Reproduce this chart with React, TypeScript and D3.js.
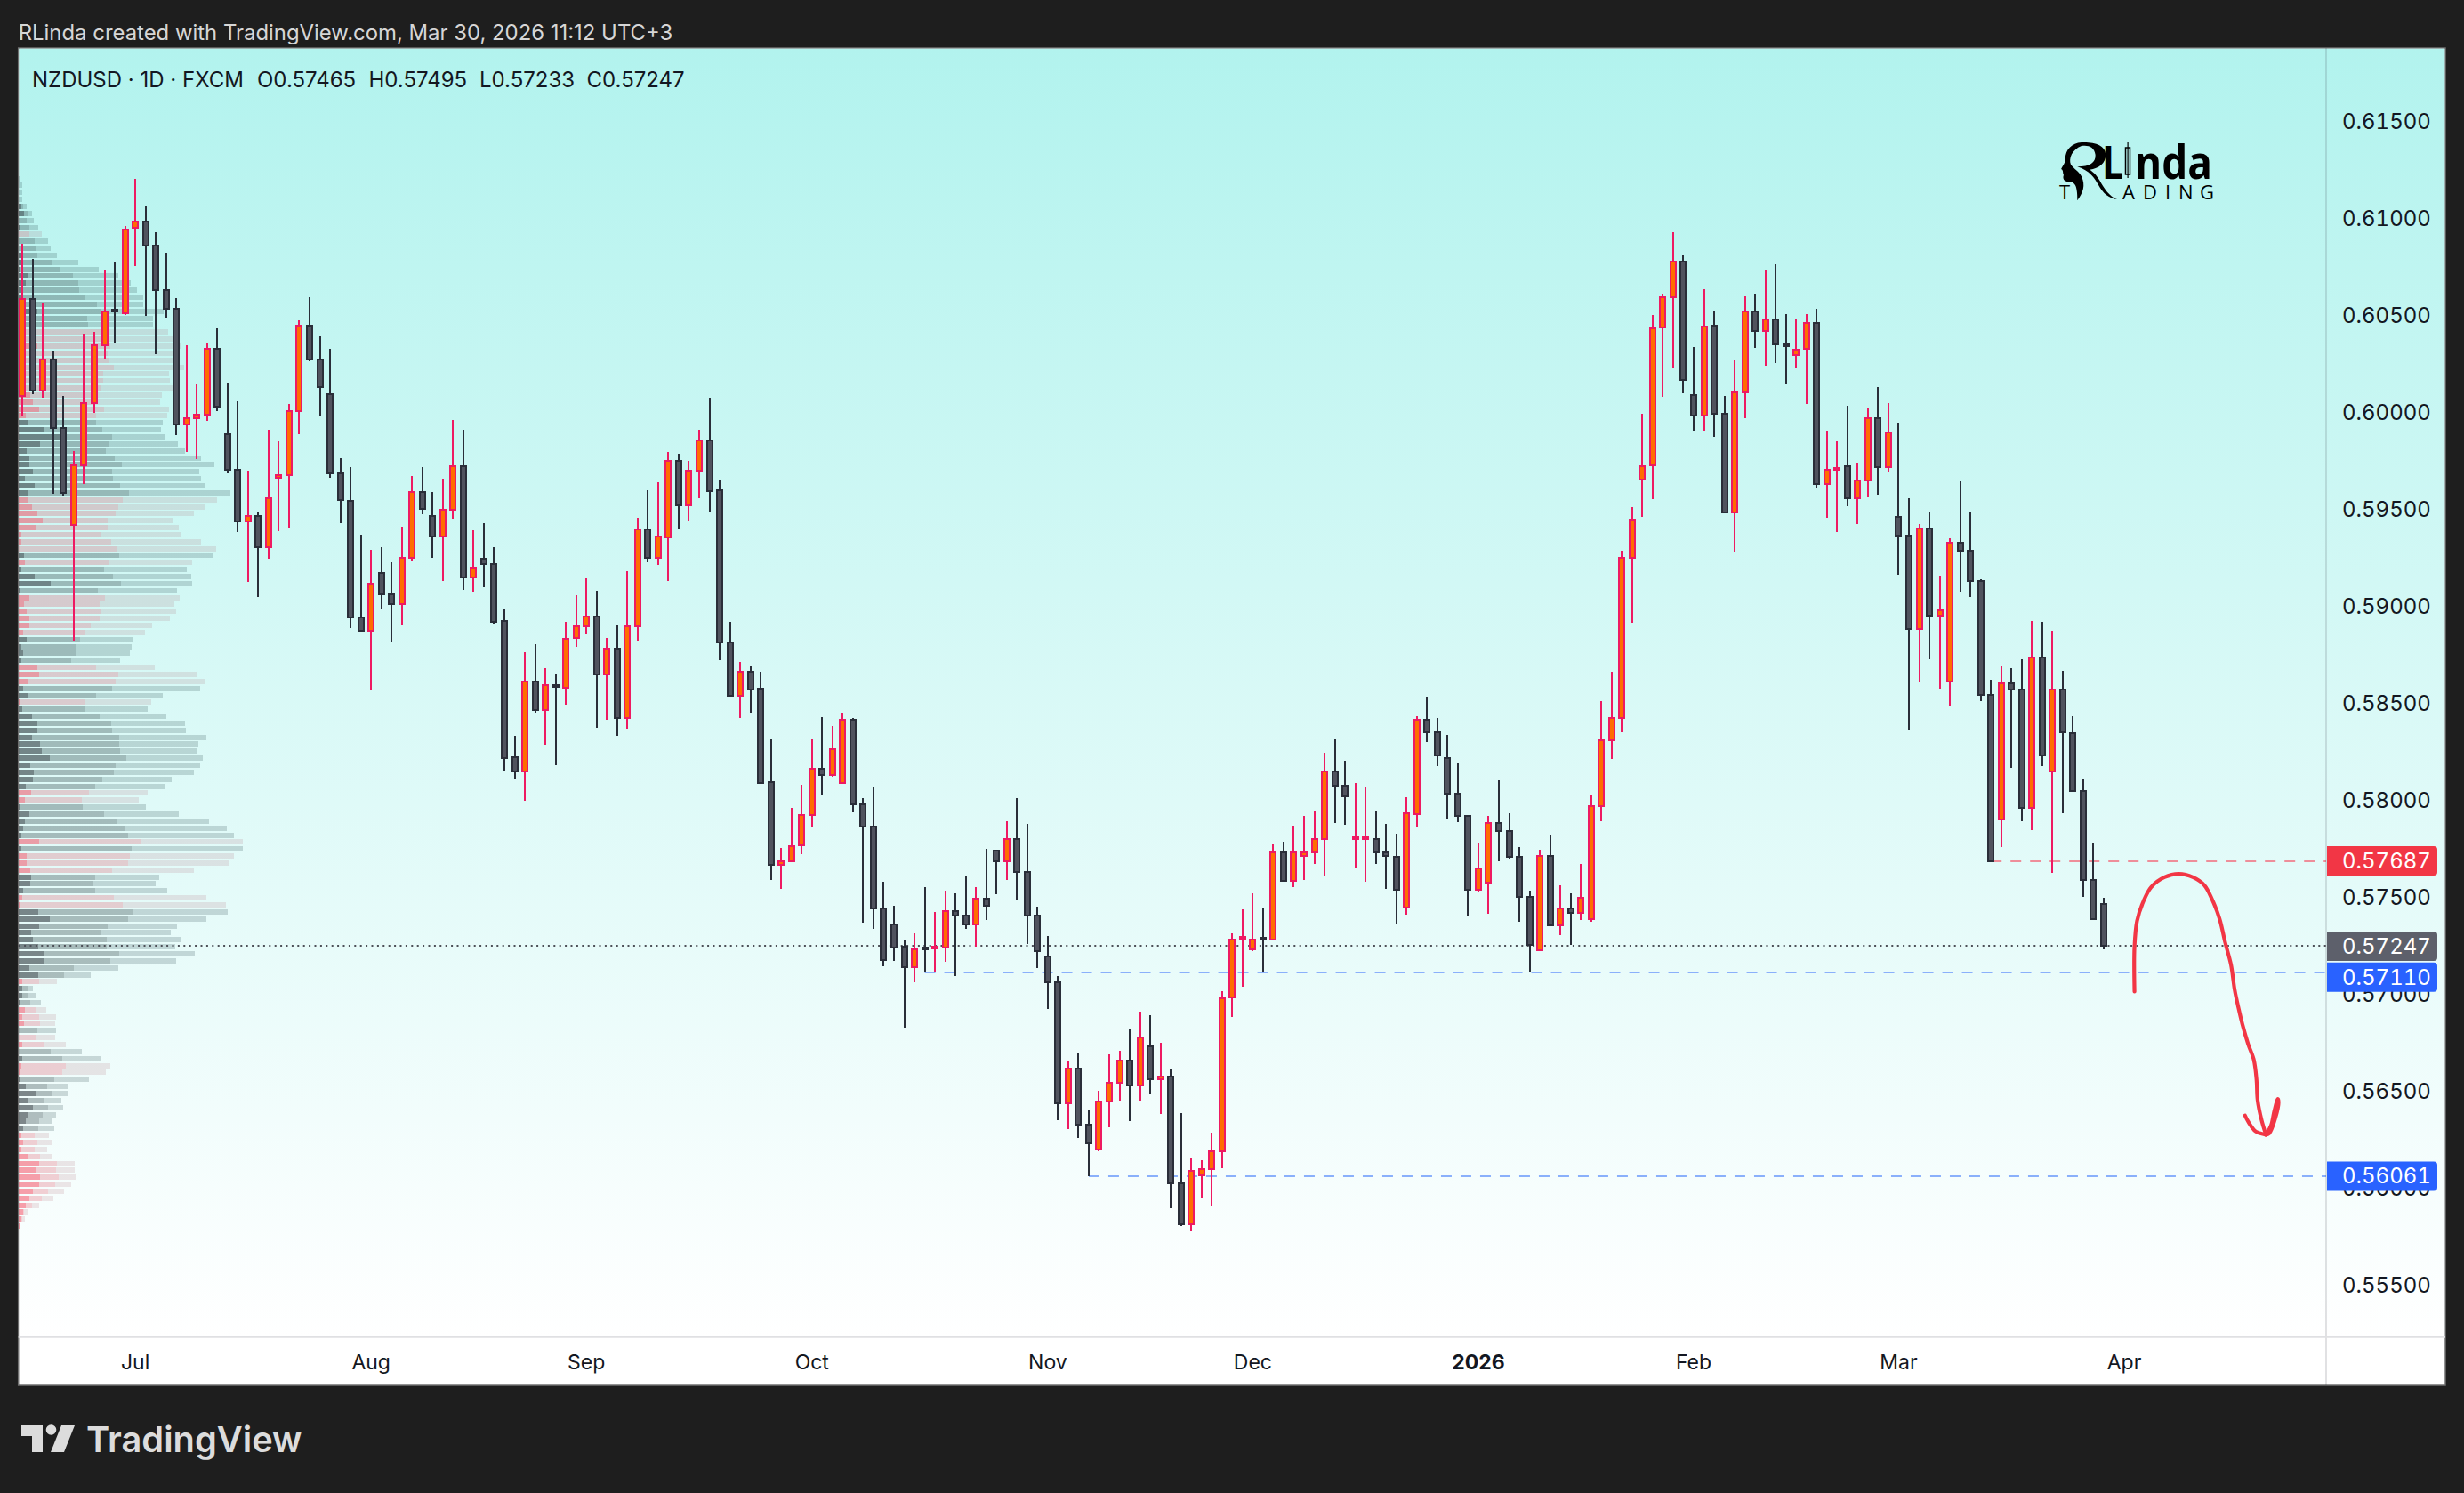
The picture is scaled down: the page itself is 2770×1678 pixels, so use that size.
import React, { useEffect, useRef } from 'react';
import * as d3 from 'd3';

// prices are stored in points (1 point = 0.00001)
const opens = [
  60083,60586,60111,60275,59918,59420,59729,60050,60349,60530,60513,60953,60983,60862,60632,60537,59939,59972,59987,60329,
  59890,59706,59439,59464,59306,59665,59677,60009,60450,60275,60093,59687,59546,58944,58875,59170,59064,59013,59252,59588,
  59464,59362,59500,59721,59151,59244,59216,58923,58220,58149,58610,58467,58595,58582,58836,58898,58946,58651,58780,58425,
  58895,59395,59251,59357,59750,59523,59701,59857,59597,58816,58540,58661,58574,58092,57666,57687,57768,57925,58161,58132,
  58091,58413,57981,57866,57444,57358,57243,57139,57238,57235,57241,57429,57407,57358,57491,57741,57684,57802,57628,57407,
  57196,57059,56436,56614,56329,56198,56444,56544,56659,56528,56733,56559,56573,56026,55811,56065,56096,56190,56982,57284,
  57229,57290,57280,57729,57583,57714,57729,57798,58151,58077,57804,57803,57802,57733,57710,57448,57930,58413,58352,58216,
  58032,57917,57538,57573,57884,57839,57710,57503,57225,57712,57356,57444,57417,57388,57971,58311,58423,59251,59653,59727,
  60438,60596,60780,60092,59983,60447,59992,59486,60102,60522,60422,60478,60350,60296,60327,60462,59630,59710,59721,59556,
  59648,59969,59718,59463,59363,58882,59400,58950,58610,59326,59286,59130,58542,57900,58605,58572,57960,58738,58148,58572,
  58347,58048,57587,57465,
];
const highs = [
  60868,60791,60562,60319,60083,59800,60406,60417,60739,60772,60960,61204,61062,60929,60824,60590,60345,60144,60360,60432,
  60149,60057,59698,59488,59909,59849,60042,60475,60595,60393,60327,59762,59716,59369,59292,59305,59226,59410,59672,59718,
  59588,59660,59960,59909,59392,59429,59305,58984,58330,58762,58803,58680,58653,58920,59057,59144,59080,58836,58900,59180,
  59456,59598,59639,59795,59787,59750,59911,60075,59652,58920,58711,58693,58662,58313,57756,57961,58079,58315,58429,58382,
  58452,58423,58013,58065,57581,57454,57280,57315,57552,57425,57534,57518,57606,57552,57751,57741,57890,58013,57880,57450,
  57300,57091,56651,56698,56405,56503,56688,56706,56821,56911,56891,56749,56616,56387,56157,56143,56284,57016,57315,57436,
  57518,57444,57772,57786,57868,57921,57946,58245,58315,58204,58089,58067,57942,57878,57829,58015,58431,58534,58423,58337,
  58194,57917,57776,57917,58104,57934,57759,57534,57747,57823,57561,57522,57671,58028,58510,58661,59285,59512,59993,60503,
  60613,60929,60808,60338,60636,60520,60085,60267,60599,60615,60735,60763,60508,60485,60508,60533,59904,59849,60036,59741,
  60025,60130,60048,59948,59556,59425,59484,59156,59349,59644,59484,59138,58622,58695,58683,58728,58925,58921,58874,58665,
  58433,58109,57777,57495,
];
const lows = [
  59980,60095,60075,59580,59567,58825,59632,60000,60280,60362,60505,60755,60499,60303,60488,59885,59798,59760,59959,60008,
  59687,59385,59128,59049,59247,59388,59406,59890,60265,59980,59664,59431,58887,58870,58567,58988,58813,58907,59231,59475,
  59249,59131,59452,59087,59075,59098,58911,58149,58108,57997,58453,58285,58180,58492,58792,58856,58374,58416,58330,58371,
  58825,59226,59215,59131,59398,59444,59559,59485,58723,58534,58425,58453,58084,57589,57543,57680,57723,57860,58030,58120,
  58090,57938,57368,57337,57143,57169,56829,57059,57116,57116,57167,57095,57337,57245,57382,57516,57589,57487,57259,57136,
  56925,56350,56305,56257,56061,56190,56313,56450,56346,56450,56485,56382,55895,55805,55778,55950,55909,56104,56884,57040,
  57222,57112,57275,57578,57554,57589,57671,57612,57882,57874,57653,57579,57671,57542,57360,57409,57860,58300,58175,57901,
  57886,57401,57524,57415,57686,57698,57372,57112,57220,57348,57304,57253,57382,57375,57890,58212,58349,58915,59463,59551,
  60081,60227,60099,59906,59906,59876,59481,59284,59972,60334,60239,60257,60146,60227,60046,59614,59458,59381,59518,59426,
  59560,59574,59697,59165,58362,58613,58729,58576,58485,59077,59050,58513,57680,57757,58167,57890,57847,58177,57624,57935,
  58042,57501,57382,57233,
];
const closes = [
  60586,60111,60275,59918,59587,59729,60050,60349,60521,60520,60944,60983,60862,60632,60536,59939,59972,59987,60329,60032,
  59706,59439,59464,59306,59556,59677,60009,60450,60275,60129,59687,59547,58944,58875,59115,59064,59013,59252,59588,59501,
  59362,59500,59721,59151,59198,59216,58921,58218,58149,58610,58467,58595,58584,58834,58898,58946,58651,58780,58425,58895,
  59395,59251,59359,59750,59523,59701,59857,59595,58815,58539,58661,58572,58090,57666,57687,57764,57925,58161,58132,58265,
  58413,57981,57866,57444,57177,57241,57139,57233,57229,57244,57429,57407,57358,57491,57454,57684,57802,57628,57407,57220,
  57059,56436,56614,56329,56229,56444,56544,56659,56528,56778,56561,56573,56026,55811,56087,56096,56190,56979,57282,57296,
  57282,57283,57729,57583,57729,57729,57798,58151,58077,58022,57809,57808,57733,57712,57540,57931,58413,58352,58231,58032,
  57917,57538,57647,57884,57839,57710,57503,57255,57712,57354,57444,57417,57495,57971,58311,58423,59251,59446,59723,60434,
  60596,60780,60169,59983,60445,59992,59486,60104,60522,60422,60478,60350,60340,60325,60462,59630,59705,59715,59556,59648,
  59969,59718,59899,59363,58882,59400,58950,58980,59326,59286,59130,58543,57685,58605,58572,57960,58738,58230,58572,58351,
  58048,57587,57388,57247,
];

// month labels on the time axis, placed on bar indexes
const timeLabels = ['Jul', 'Aug', 'Sep', 'Oct', 'Nov', 'Dec', '2026', 'Feb', 'Mar', 'Apr'];
const timeBars = [11, 34, 55, 77, 100, 120, 142, 163, 183, 205];

const priceTicks = d3.range(55500, 61501, 500);

// volume profile rows from the top of the range down: g/r and the three cumulative parts
const vpRows: [string, number, number, number][] = [
  ['g',0,0,4],['g',0,0,7],['g',0,0,7],['g',0,0,7],['g',5,10,17],['g',11,19,27],['g',0,16,30],['g',4,21,39],['r',0,21,46],['g',0,32,58],
  ['g',0,34,63],['g',5,37,76],['g',5,65,117],['g',3,82,157],['g',18,107,196],['g',14,117,220],['g',10,119,232],['g',5,130,245],['g',10,154,244],['g',37,160,284],
  ['g',5,135,264],['g',5,136,264],['r',0,170,293],['r',0,175,305],['r',37,180,320],['r',0,175,310],['r',10,177,310],['r',5,187,325],['r',0,166,295],['r',0,166,297],
  ['r',0,163,310],['r',23,150,281],['r',29,150,278],['r',41,168,295],['r',15,152,292],['g',20,152,283],['g',49,164,279],['g',84,184,288],['g',42,177,312],['g',16,171,326],
  ['g',21,189,358],['g',21,203,384],['g',28,184,354],['g',13,185,358],['g',32,199,366],['g',18,217,415],
  ['r',18,204,389],['r',27,196,365],['r',37,190,344],['r',48,175,302],['r',34,175,314],['r',5,161,318],['r',5,182,358],['r',0,194,387],['g',11,197,382],['r',13,177,340],
  ['g',5,168,330],['g',32,185,339],['g',63,201,340],['g',3,156,311],['r',21,170,316],['r',11,159,305],['r',16,163,309],['r',21,159,297],['r',21,142,262],['r',9,130,248],
  ['g',16,121,225],['g',5,112,222],['g',9,114,218],['g',6,103,199],['r',37,152,267],['r',41,196,349],['r',18,190,365],['g',9,184,356],['g',20,152,283],['r',3,131,260],
  ['g',8,130,253],['g',27,159,290],['g',37,182,326],['g',37,184,328],['g',27,197,368],['g',42,197,353],['g',46,199,351],['g',62,211,361],['g',23,190,356],['g',30,187,344],
  ['g',28,164,300],['g',15,150,286],['r',25,138,253],['r',13,124,236],['g',2,126,250],['g',21,168,314],['g',13,192,373],['g',9,208,408],['g',6,215,422],['r',41,241,440],
  ['g',6,222,440],['r',16,218,422],['r',16,215,412],['r',23,184,344],['g',25,150,276],['g',23,145,269],['g',9,150,292],['r',8,187,368],['r',2,204,407],['g',39,224,410],
  ['g',62,215,368],['g',41,175,311],['g',25,163,299],['g',28,173,318],['g',39,173,307],['g',49,197,346],['g',51,180,309],['g',21,109,196],['g',39,89,142],
  ['r',8,41,76],['g',8,18,28],['g',8,20,34],['g',2,23,44],['r',13,34,55],['r',8,41,74],['r',11,42,72],['g',1,37,74],['r',1,35,72],['r',8,51,93],
  ['g',1,63,124],['g',8,86,163],['r',6,93,180],['r',2,86,171],['g',4,70,138],['g',15,56,98],['g',35,65,96],['g',18,51,84],['g',28,58,88],['g',20,48,74],
  ['g',15,41,67],['g',9,39,70],['r',6,32,60],['r',9,37,65],['r',6,32,56],['r',18,42,65],['r',41,76,110],['r',35,74,110],['r',42,79,114],['r',41,72,103],
  ['r',28,58,89],['r',21,46,69],['r',15,27,41],['r',9,11,18],['r',6,8,13],['r',2,2,2],
];

// horizontal levels drawn on the chart
const levelPrices = [57687, 57110, 56061];
const levelStartBars = [192, 88, 104];
const levelColors = ['#ee8e9a', '#8ab0fb', '#8ab0fb'];
const labelColors = ['#f23645', '#2962ff', '#2962ff'];
const lastPrice = 57247;

// hand drawn forecast stroke, bar index / price pairs
const sketchBars = [206,206,206.25,206.88,207.62,208.92,210.33,211.7,212.81,213.55,214.3,214.85,215.41,215.78,216.15,216.52,217.08,217.64,217.9,218,218.38,218.82];
const sketchPrices = [57013,57245,57378,57480,57552,57603,57620,57603,57562,57491,57388,57265,57152,57019,56927,56845,56743,56661,56558,56456,56353,56275];
const barbLeftBars = [218.82,217.82,217.08,216.78];
const barbLeftPrices = [56275,56292,56343,56374];
const barbRightBars = [218.82,219.32,219.62,219.98,220.05,219.75,219.13,218.82];
const barbRightPrices = [56275,56323,56394,56460,56442,56364,56281,56275];

const headerParts = ['NZDUSD · 1D · FXCM', 'O0.57465', 'H0.57495', 'L0.57233', 'C0.57247'];
const headerX = [36, 289, 414.5, 539, 659.5];

const UI_FONT = 'Inter, "Liberation Sans", sans-serif';
const LOGO_FONT = '"Open Sans", sans-serif';

const App: React.FC = () => {
  const svgRef = useRef<SVGSVGElement>(null);

  useEffect(() => {
    const svg = d3.select(svgRef.current);
    svg.selectAll('*').remove();

    const frame = { left: 20.7, right: 2749, top: 54, bottom: 1557 };
    const axisX = 2615;
    const timeY = 1502.7;

    const x = d3.scaleLinear().domain([0, 203]).range([25.3, 2365]);
    const y = d3.scaleLinear().domain([55500, 61500]).range([1444.2, 136.7]);
    const fmt = (p: number) => (p / 1e5).toFixed(5);

    svg.append('rect').attr('width', 2770).attr('height', 1678).attr('fill', '#1e1e1e');

    const defs = svg.append('defs');
    const grad = defs.append('linearGradient').attr('id', 'bg').attr('x1', 0).attr('y1', 0).attr('x2', 0).attr('y2', 1);
    grad.append('stop').attr('offset', 0).attr('stop-color', '#b2f3ee');
    grad.append('stop').attr('offset', 1).attr('stop-color', '#ffffff');

    svg.append('rect')
      .attr('x', frame.left).attr('y', frame.top)
      .attr('width', frame.right - frame.left).attr('height', frame.bottom - frame.top)
      .attr('fill', '#fff').attr('stroke', '#6f6f6f').attr('stroke-width', 1.5);
    svg.append('rect')
      .attr('x', frame.left + 0.7).attr('y', frame.top + 0.7)
      .attr('width', frame.right - frame.left - 1.4).attr('height', timeY - frame.top)
      .attr('fill', 'url(#bg)');

    // Top caption
    svg.append('text')
      .attr('x', 20.7).attr('y', 36).attr('dominant-baseline', 'central')
      .style('font-family', UI_FONT).style('font-size', '23.9px').attr('fill', '#d6d6d6')
      .text('RLinda created with TradingView.com, Mar 30, 2026 11:12 UTC+3');

    // Volume profile
    const vpHigh = 61225;
    const vpLow = 55785;
    const vpStep = (vpHigh - vpLow) / vpRows.length;
    const vpW = d3.scaleLinear().domain([0, 440]).range([0, 252.6]);
    const vpFill: Record<string, string[]> = {
      g: ['rgba(40,50,55,0.58)', 'rgba(40,60,65,0.33)', 'rgba(40,70,75,0.2)'],
      r: ['rgba(244,54,76,0.47)', 'rgba(220,60,80,0.24)', 'rgba(170,90,100,0.15)'],
    };
    const vp = svg.append('g').attr('shape-rendering', 'crispEdges');
    vpRows.forEach((row, i) => {
      const [side, a, b, c] = row;
      const cy = y(vpHigh - (i + 0.5) * vpStep);
      const parts = [[0, a], [a, b], [b, c]];
      parts.forEach(([from, to], k) => {
        if (to <= from) return;
        vp.append('rect')
          .attr('x', frame.left + vpW(from))
          .attr('y', Math.round(cy - 3))
          .attr('width', vpW(to) - vpW(from))
          .attr('height', 6)
          .attr('fill', vpFill[side][k]);
      });
    });

    // Level lines
    levelPrices.forEach((p, i) => {
      svg.append('line')
        .attr('x1', x(levelStartBars[i])).attr('x2', axisX)
        .attr('y1', Math.round(y(p))).attr('y2', Math.round(y(p)))
        .attr('stroke', levelColors[i]).attr('stroke-width', 2)
        .attr('stroke-dasharray', '12 10');
    });
    svg.append('line')
      .attr('x1', frame.left).attr('x2', axisX)
      .attr('y1', Math.round(y(lastPrice))).attr('y2', Math.round(y(lastPrice)))
      .attr('stroke', '#4d5058').attr('stroke-width', 2)
      .attr('stroke-dasharray', '2 4.4');

    // Candles
    const candles = svg.append('g').attr('shape-rendering', 'crispEdges');
    opens.forEach((o, i) => {
      const c = closes[i];
      const up = c >= o;
      const edge = up ? '#ee1a62' : '#2a2e39';
      const body = up ? '#ff6d00' : '#50535e';
      const cx = Math.round(x(i));
      candles.append('rect')
        .attr('x', cx - 1).attr('width', 2)
        .attr('y', y(highs[i])).attr('height', y(lows[i]) - y(highs[i]))
        .attr('fill', edge);
      const top = Math.round(y(Math.max(o, c)));
      const bot = Math.round(y(Math.min(o, c)));
      candles.append('rect')
        .attr('x', cx - 4).attr('width', 8)
        .attr('y', top - 1).attr('height', Math.max(bot - top + 2, 4))
        .attr('fill', edge);
      if (bot - top > 2) {
        candles.append('rect')
          .attr('x', cx - 2).attr('width', 4)
          .attr('y', top + 1).attr('height', bot - top - 2)
          .attr('fill', body);
      }
    });

    // Panes separators
    svg.append('line')
      .attr('x1', axisX).attr('x2', axisX).attr('y1', frame.top).attr('y2', frame.bottom)
      .attr('stroke', '#2a2e39').attr('stroke-opacity', 0.14).attr('stroke-width', 2);
    svg.append('line')
      .attr('x1', frame.left).attr('x2', frame.right).attr('y1', timeY).attr('y2', timeY)
      .attr('stroke', '#e0e0e3').attr('stroke-width', 2);

    // Price axis
    const priceAxis = svg.append('g')
      .style('font-family', UI_FONT).style('font-size', '24px')
      .style('font-feature-settings', '"tnum"');
    priceTicks.forEach(t => {
      priceAxis.append('text')
        .attr('x', 2633).attr('y', y(t)).attr('dominant-baseline', 'central')
        .attr('fill', '#131722').text(fmt(t));
    });

    // Price labels
    const allLabels = [
      { p: levelPrices[0], col: labelColors[0], shift: 0 },
      { p: lastPrice, col: '#5d606b', shift: 0 },
      { p: levelPrices[1], col: labelColors[1], shift: 5 },
      { p: levelPrices[2], col: labelColors[2], shift: 0 },
    ];
    allLabels.forEach(l => {
      const cy = y(l.p) + l.shift;
      priceAxis.append('path')
        .attr('d', `M2616 ${cy - 16.5} H2736 a4 4 0 0 1 4 4 V${cy + 12.5} a4 4 0 0 1 -4 4 H2616 Z`)
        .attr('fill', l.col);
      priceAxis.append('text')
        .attr('x', 2633).attr('y', cy).attr('dominant-baseline', 'central')
        .attr('fill', '#fff').text(fmt(l.p));
    });

    // Time axis
    timeLabels.forEach((t, i) => {
      svg.append('text')
        .attr('x', x(timeBars[i])).attr('y', 1531).attr('dominant-baseline', 'central')
        .attr('text-anchor', 'middle')
        .style('font-family', UI_FONT).style('font-size', '23px')
        .style('font-weight', t === '2026' ? 700 : 400)
        .attr('fill', '#131722').text(t);
    });

    // Symbol header
    headerParts.forEach((t, i) => {
      svg.append('text')
        .attr('x', headerX[i]).attr('y', 89).attr('dominant-baseline', 'central')
        .style('font-family', UI_FONT).style('font-size', '24px')
        .attr('fill', '#131722').text(t);
    });

    // Hand drawn forecast
    const pen = d3.line<[number, number]>()
      .x(d => x(d[0])).y(d => y(d[1]))
      .curve(d3.curveCatmullRom);
    const strokes: [number[], number[]][] = [
      [sketchBars, sketchPrices],
      [barbLeftBars, barbLeftPrices],
      [barbRightBars, barbRightPrices],
    ];
    strokes.forEach(([bars, prices]) => {
      svg.append('path')
        .attr('d', pen(bars.map((b, i) => [b, prices[i]] as [number, number])))
        .attr('fill', 'none').attr('stroke', '#f23645').attr('stroke-width', 4.2)
        .attr('stroke-linecap', 'round').attr('stroke-linejoin', 'round');
    });

    // Watermark logo
    const logo = svg.append('g').attr('fill', '#000');
    logo.append('path')
      .attr('transform', 'translate(2200,100) scale(0.3636,0.3333)')
      .attr('d', 'M385 180 C355 182 335 205 335 235 C335 250 328 258 322 270 C330 274 326 282 330 290 C326 300 330 312 345 312 C360 312 368 322 370 340 C372 352 372 362 372 376 C390 350 398 325 385 295 C378 278 360 268 352 255 C345 235 355 205 385 192 C405 188 425 195 428 222 C430 248 410 262 372 262 C410 275 425 300 438 325 C450 350 470 370 495 372 C470 362 455 335 442 310 C432 290 420 278 410 272 C440 268 460 250 460 222 C460 190 425 178 385 180 Z');
    logo.append('text').attr('x', 2363).attr('y', 201).style('font-family', LOGO_FONT)
      .style('font-weight', 700).style('font-size', '52px')
      .attr('textLength', 24).attr('lengthAdjust', 'spacingAndGlyphs').text('L');
    logo.append('rect').attr('x', 2391.5).attr('y', 160).attr('width', 1.2).attr('height', 40);
    logo.append('rect').attr('x', 2389.5).attr('y', 166).attr('width', 5).attr('height', 30).attr('fill', 'none').attr('stroke', '#000').attr('stroke-width', 1.5);
    logo.append('text').attr('x', 2400).attr('y', 201).style('font-family', LOGO_FONT)
      .style('font-weight', 700).style('font-size', '52px')
      .attr('textLength', 87).attr('lengthAdjust', 'spacingAndGlyphs').text('nda');
    const wordLetters = ['T', 'A', 'D', 'I', 'N', 'G'];
    const wordX = [2315, 2386, 2409, 2434, 2449, 2473];
    wordLetters.forEach((t, i) => {
      logo.append('text').attr('x', wordX[i]).attr('y', 224)
        .style('font-family', LOGO_FONT).style('font-size', '22px').text(t);
    });

    // Footer brand
    const brand = svg.append('g').attr('fill', '#dcdcdc');
    brand.append('path').attr('d', 'M24 1602 H48 V1632 H36 V1614 H24 Z');
    brand.append('circle').attr('cx', 57.5).attr('cy', 1607).attr('r', 5.8);
    brand.append('path').attr('d', 'M69 1602 H84 L72 1632 H57 Z');
    brand.append('text').attr('x', 97).attr('y', 1632)
      .style('font-family', UI_FONT).style('font-weight', 600).style('font-size', '39.8px')
      .text('TradingView');
  }, []);

  return <svg ref={svgRef} width={2770} height={1678} style={{ position: 'absolute', left: 0, top: 0 }} />;
};

export default App;
